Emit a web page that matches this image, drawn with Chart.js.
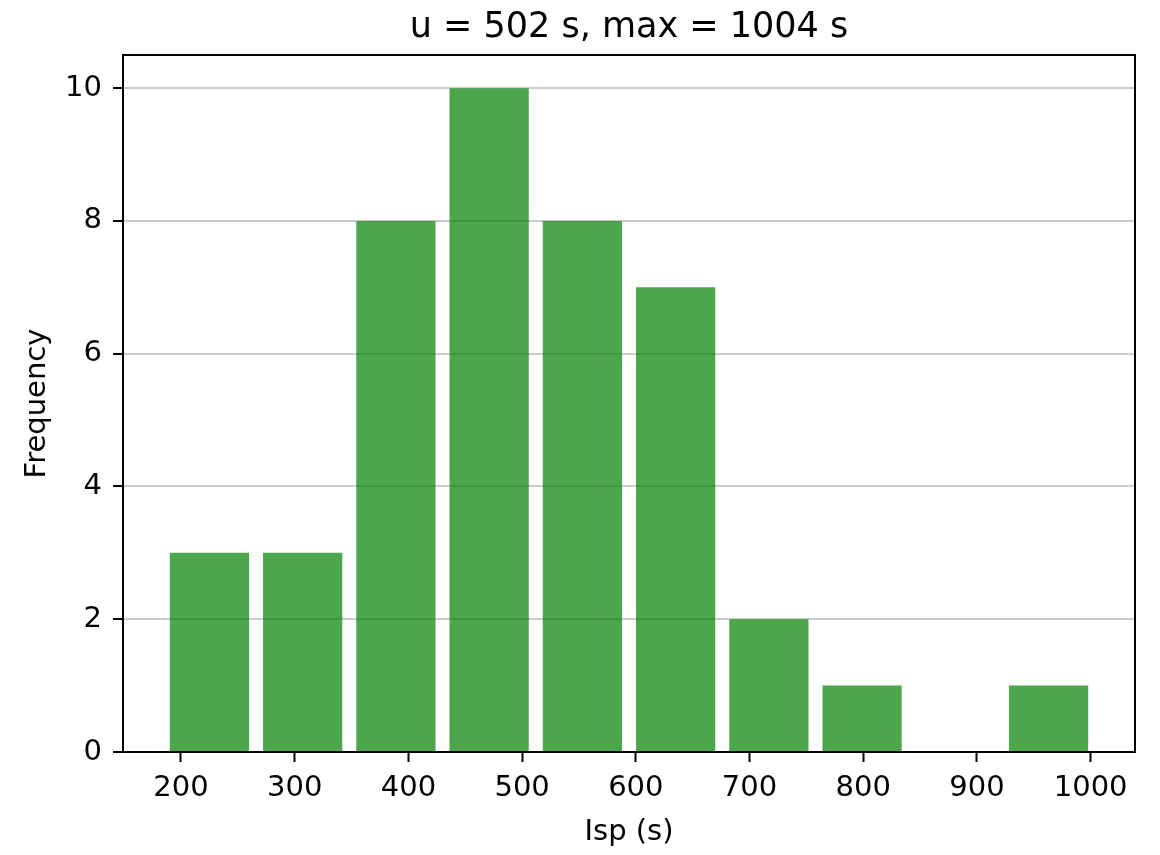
<!DOCTYPE html>
<html>
<head>
<meta charset="utf-8">
<script src="https://cdn.jsdelivr.net/npm/chart.js@4"></script>
<style>
  body { margin: 0; background: #fff; }
  #wrap { width: 1160px; height: 855px; }
</style>
</head>
<body>
<div id="wrap"><canvas id="ispChart"></canvas></div>
<script>
// histogram bins (centre of each bin, in s) and counts
const binCenters = [225, 307, 389, 471, 553, 635, 717, 799, 881, 963]
const counts = [3, 3, 8, 10, 8, 7, 2, 1, 0, 1]
const xTicks = [200, 300, 400, 500, 600, 700, 800, 900, 1000]
const yTicks = [0, 2, 4, 6, 8, 10]

const font = "'DejaVu Sans', sans-serif"

// black box round the plot area, like matplotlib spines
const frame = {
  id: "frame",
  afterDraw(chart) {
    const { ctx, chartArea: a } = chart
    ctx.save()
    ctx.strokeStyle = "#000"
    ctx.lineWidth = 2
    ctx.strokeRect(a.left, a.top, a.right - a.left, a.bottom - a.top)
    ctx.restore()
  }
}

new Chart(document.getElementById("ispChart"), {
  type: "bar",
  data: {
    datasets: [
      {
        data: binCenters.map((c, i) => ({ x: c, y: counts[i] })),
        backgroundColor: "rgba(0, 128, 0, 0.7)",
        borderWidth: 0,
        barPercentage: 0.85,
        categoryPercentage: 1
      }
    ]
  },
  options: {
    responsive: true,
    maintainAspectRatio: false,
    animation: false,
    layout: { padding: { left: 0, right: 25, top: 0, bottom: 0 } },
    plugins: {
      legend: { display: false },
      tooltip: { enabled: false },
      title: {
        display: true,
        text: "u = 502 s, max = 1004 s",
        fullSize: false,
        color: "#000",
        font: { family: font, size: 35, weight: "normal" },
        padding: { top: 7, bottom: 6 }
      }
    },
    scales: {
      x: {
        type: "linear",
        offset: false,
        min: 149,
        max: 1039,
        afterBuildTicks: (scale) => { scale.ticks = xTicks.map((v) => ({ value: v })) },
        afterFit: (scale) => { scale.height = 103 },
        grid: { offset: false, drawOnChartArea: false, drawTicks: true, tickLength: 10, tickWidth: 2, tickColor: "#000" },
        border: { display: false },
        ticks: {
          autoSkip: false,
          maxRotation: 0,
          padding: 9,
          color: "#000",
          font: { family: font, size: 29 },
          callback: (v) => String(v)
        },
        title: { display: true, text: "Isp (s)", color: "#000", font: { family: font, size: 29 }, padding: { top: 0, bottom: 5 } }
      },
      y: {
        min: 0,
        max: 10.5,
        afterBuildTicks: (scale) => { scale.ticks = yTicks.map((v) => ({ value: v })) },
        afterFit: (scale) => { scale.width = 123 },
        grid: { color: "#cccccc", lineWidth: 2, tickLength: 10, tickWidth: 2, tickColor: "#000" },
        border: { display: false },
        ticks: { padding: 11, color: "#000", font: { family: font, size: 29 } },
        title: { display: true, text: "Frequency", color: "#000", font: { family: font, size: 29 }, padding: { top: 20, bottom: 0 } }
      }
    }
  },
  plugins: [frame]
})
</script>
</body>
</html>
